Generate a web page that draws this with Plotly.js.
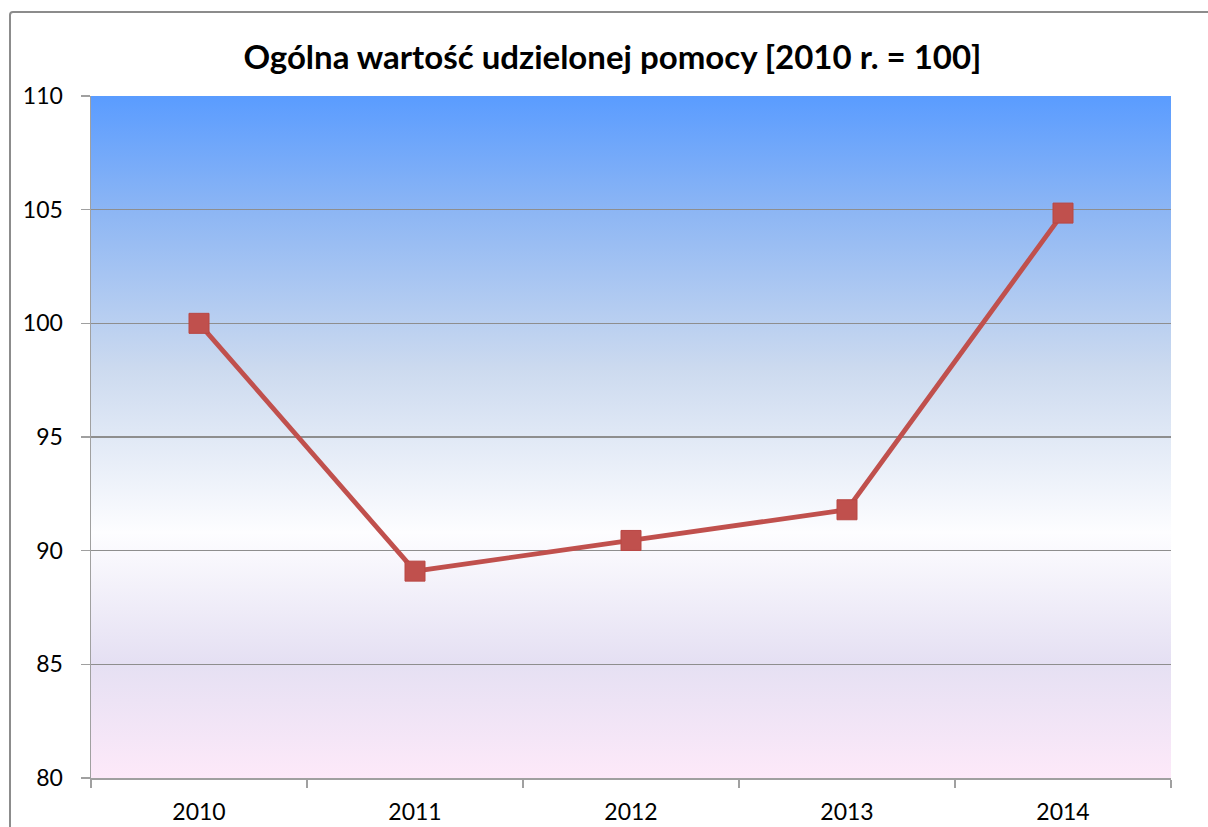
<!DOCTYPE html>
<html>
<head>
<meta charset="utf-8">
<script src="https://cdn.plot.ly/plotly-3.0.1.min.js"></script>
<style>
html,body{margin:0;padding:0;overflow:hidden;background:#fff;}
#chart{position:absolute;left:0;top:0;width:1208px;height:827px;}
#frame{position:absolute;left:9px;top:11px;width:1300px;height:900px;border:2px solid #8c8c8c;border-radius:4px;pointer-events:none;}
</style>
</head>
<body>
<div id="chart"></div>
<div id="frame"></div>
<script>
const titleText = 'Ogólna wartość udzielonej pomocy [2010 r. = 100]';
const years = ['2010', '2011', '2012', '2013', '2014'];
const values = [100, 89.1, 90.45, 91.8, 104.85];
const yTicks = [80, 85, 90, 95, 100, 105, 110];

const gradSvg = '<svg xmlns="http://www.w3.org/2000/svg" width="100" height="100" preserveAspectRatio="none">' +
  '<defs><linearGradient id="g" x1="0" y1="0" x2="0" y2="1">' +
  '<stop offset="0" stop-color="#5A9CFF"/>' +
  '<stop offset="0.17" stop-color="#8DB6F4"/>' +
  '<stop offset="0.40" stop-color="#CCDAEF"/>' +
  '<stop offset="0.64" stop-color="#FDFDFF"/>' +
  '<stop offset="0.83" stop-color="#E5E0F3"/>' +
  '<stop offset="1" stop-color="#FDE9F9"/>' +
  '</linearGradient></defs><rect width="100" height="100" fill="url(#g)"/></svg>';
const gradUri = 'data:image/svg+xml;base64,' + btoa(gradSvg);

const trace = {
  type: 'scatter',
  mode: 'lines+markers',
  x: years,
  y: values,
  line: {color: '#C0504D', width: 4.8},
  marker: {symbol: 'square', size: 20, color: '#C0504D', line: {color: '#B94643', width: 1}},
  hoverinfo: 'x+y'
};

const layout = {
  width: 1208,
  height: 827,
  margin: {l: 91, r: 37, t: 96, b: 49},
  paper_bgcolor: '#FFFFFF',
  plot_bgcolor: 'rgba(0,0,0,0)',
  font: {family: 'Lato, "Open Sans", sans-serif', color: '#000'},
  title: {
    text: '<b>' + titleText + '</b>',
    font: {family: 'Lato, "Open Sans", sans-serif', size: 33, color: '#000'},
    x: 0.507, xanchor: 'center',
    y: 0.931, yanchor: 'middle'
  },
  showlegend: false,
  xaxis: {
    type: 'category',
    range: [-0.5, 4.5],
    tickson: 'boundaries',
    ticks: 'outside',
    ticklen: 8,
    tickcolor: '#A0A0A0',
    tickwidth: 1.5,
    showline: true,
    linecolor: '#A0A0A0',
    linewidth: 1.5,
    showgrid: false,
    zeroline: false,
    tickfont: {size: 23, color: '#000'},
    ticklabelstandoff: 13
  },
  yaxis: {
    range: [80, 110],
    tickvals: yTicks,
    ticktext: yTicks.map(String),
    ticks: 'outside',
    ticklen: 9,
    tickcolor: '#A0A0A0',
    tickwidth: 1.5,
    showline: true,
    linecolor: '#A0A0A0',
    linewidth: 1.5,
    showgrid: true,
    gridcolor: '#8E8E8E',
    gridwidth: 1.3,
    zeroline: false,
    tickfont: {size: 23, color: '#000'},
    ticklabelstandoff: 13
  },
  images: [{
    source: gradUri,
    xref: 'paper', yref: 'paper',
    x: 0, y: 1, sizex: 1, sizey: 1,
    xanchor: 'left', yanchor: 'top',
    sizing: 'stretch',
    layer: 'below'
  }]
};

Plotly.newPlot('chart', [trace], layout, {displayModeBar: false, staticPlot: true});
</script>
</body>
</html>
